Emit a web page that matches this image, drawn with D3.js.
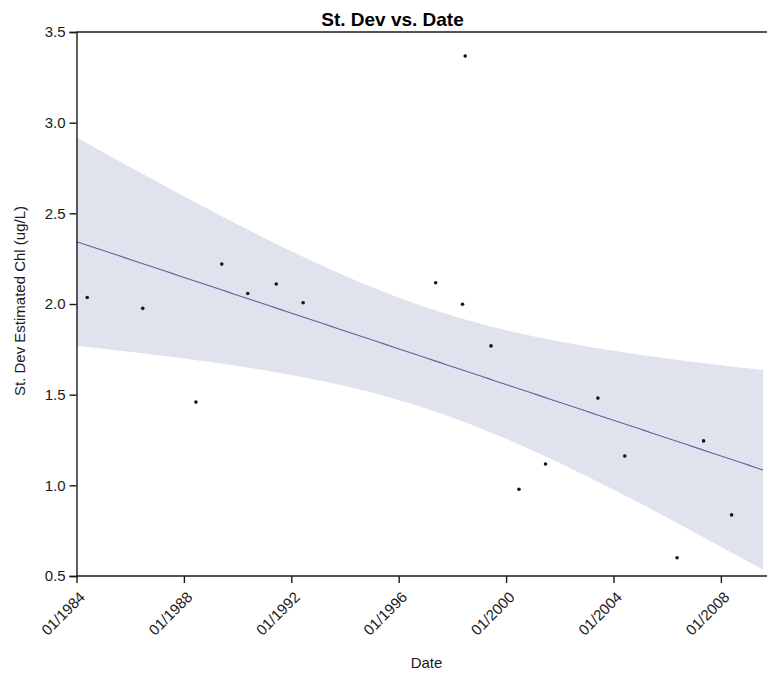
<!DOCTYPE html>
<html>
<head>
<meta charset="utf-8">
<script src="https://cdn.jsdelivr.net/npm/d3@7"></script>
<style>
  body { margin: 0; background: #fff; }
  svg { display: block; font-family: "Liberation Sans", Arial, sans-serif; }
</style>
</head>
<body>
<svg id="chart" width="767" height="675"></svg>
<script>
// Sample dates and standard deviation of estimated chlorophyll (ug/L)
const sampleDates = [
  "1984-05-26", "1986-06-20", "1988-06-13", "1989-05-30", "1990-05-19",
  "1991-06-10", "1992-06-10", "1997-05-18", "1998-05-18", "1998-06-24",
  "1999-06-10", "2000-06-24", "2001-06-20", "2003-06-03", "2004-06-03",
  "2006-05-15", "2007-05-11", "2008-05-26"
];
const stDevValues = [
  2.036, 1.976, 1.459, 2.220, 2.058,
  2.110, 2.007, 2.117, 1.999, 3.368,
  1.769, 0.978, 1.118, 1.481, 1.162,
  0.601, 1.245, 0.837
];
const xTickDates = ["1984-01-01", "1988-01-01", "1992-01-01", "1996-01-01", "2000-01-01", "2004-01-01", "2008-01-01"];
const yTickValues = [0.5, 1.0, 1.5, 2.0, 2.5, 3.0, 3.5];
const xDomain = ["1984-01-01", "2009-07-27"];
const yDomain = [0.5, 3.5];
// two-sided 95% Student t quantile for n - 2 = 16 degrees of freedom
const tCrit = 2.1199;

(function () {
  const parse = d3.utcParse("%Y-%m-%d");
  const data = sampleDates.map((d, i) => ({ date: parse(d), value: stDevValues[i] }));

  const svg = d3.select("#chart");
  const plotLeft = 76.5, plotRight = 763, plotTop = 32, plotBottom = 576;

  const x = d3.scaleUtc().domain(xDomain.map(parse)).range([plotLeft, plotRight]);
  const y = d3.scaleLinear().domain(yDomain).range([plotBottom, plotTop]);

  // Ordinary least squares fit with 95% confidence band for the mean
  const yearMs = 365.25 * 24 * 3600 * 1000;
  const xs = data.map(d => d.date.getTime() / yearMs);
  const ys = data.map(d => d.value);
  const n = xs.length;
  const mx = d3.mean(xs), my = d3.mean(ys);
  const sxx = d3.sum(xs, v => (v - mx) ** 2);
  const sxy = d3.sum(xs.map((v, i) => (v - mx) * (ys[i] - my)));
  const slope = sxy / sxx;
  const intercept = my - slope * mx;
  const sse = d3.sum(xs.map((v, i) => (ys[i] - (intercept + slope * v)) ** 2));
  const s = Math.sqrt(sse / (n - 2));

  const [d0, d1] = x.domain();
  const fit = d3.range(0, 101).map(k => {
    const t = new Date(+d0 + (d1 - d0) * k / 100);
    const xv = t.getTime() / yearMs;
    const yhat = intercept + slope * xv;
    const half = tCrit * s * Math.sqrt(1 / n + (xv - mx) ** 2 / sxx);
    return { date: t, yhat, lo: yhat - half, hi: yhat + half };
  });

  svg.append("path")
    .datum(fit)
    .attr("fill", "#e0e3ed")
    .attr("d", d3.area().x(d => x(d.date)).y0(d => y(d.lo)).y1(d => y(d.hi)));

  svg.append("path")
    .datum(fit)
    .attr("fill", "none")
    .attr("stroke", "#5b63a8")
    .attr("stroke-width", 1.1)
    .attr("d", d3.line().x(d => x(d.date)).y(d => y(d.yhat)));

  svg.append("g")
    .selectAll("circle")
    .data(data)
    .join("circle")
    .attr("cx", d => x(d.date))
    .attr("cy", d => y(d.value))
    .attr("r", 1.8)
    .attr("fill", "#111122");

  // Axes
  const xAxis = svg.append("g")
    .attr("transform", `translate(0,${plotBottom})`)
    .call(d3.axisBottom(x).tickValues(xTickDates.map(parse)).tickFormat(d3.utcFormat("%m/%Y")).tickSizeOuter(0).tickSize(7));
  xAxis.select(".domain").attr("d", `M${plotLeft},0H767`);
  xAxis.selectAll("text")
    .attr("x", 0).attr("y", 0).attr("dy", 0)
    .attr("transform", "translate(9,22) rotate(-45)")
    .style("text-anchor", "end");

  svg.append("g")
    .attr("transform", `translate(${plotLeft},0)`)
    .call(d3.axisLeft(y).tickValues(yTickValues).tickFormat(d3.format(".1f")).tickSizeOuter(0).tickSize(7).tickPadding(4));

  svg.selectAll(".tick text").attr("fill", "#1a1a1a").style("font-size", "15px").style("font-family", "'Liberation Sans', Arial, sans-serif");
  svg.selectAll(".domain, .tick line").attr("stroke", "#1a1a1a").attr("stroke-width", 1.4);

  // Top frame line
  svg.append("line")
    .attr("x1", plotLeft).attr("x2", 767)
    .attr("y1", plotTop).attr("y2", plotTop)
    .attr("stroke", "#1a1a1a").attr("stroke-width", 1.4);

  // Titles
  svg.append("text")
    .attr("x", 392.5).attr("y", 25.5)
    .attr("text-anchor", "middle")
    .style("font-size", "19px").style("font-weight", "bold")
    .attr("fill", "#000")
    .text("St. Dev vs. Date");

  svg.append("text")
    .attr("x", 426.5).attr("y", 667.5)
    .attr("text-anchor", "middle")
    .style("font-size", "15px")
    .attr("fill", "#1a1a1a")
    .text("Date");

  svg.append("text")
    .attr("transform", "translate(25,301) rotate(-90)")
    .attr("text-anchor", "middle")
    .style("font-size", "15px")
    .attr("fill", "#1a1a1a")
    .text("St. Dev Estimated Chl (ug/L)");
})();
</script>
</body>
</html>
